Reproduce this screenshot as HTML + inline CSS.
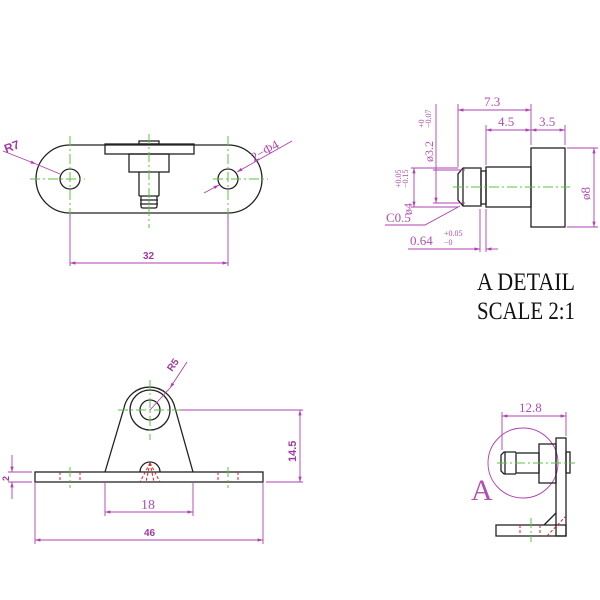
<!DOCTYPE html>
<html><head><style>
html,body{margin:0;padding:0;background:#fff;}
svg{display:block;}
.k{stroke:#222;stroke-width:1.3;fill:none;}
.p{stroke:#b040b0;stroke-width:0.9;fill:none;}
.g{stroke:#5cc040;stroke-width:1;fill:none;stroke-dasharray:10 3 2 3;}
.r{stroke:#e02020;stroke-width:1;fill:none;stroke-dasharray:3 2;}
.t{fill:#a03aa0;font-family:"Liberation Sans",sans-serif;font-weight:bold;}
.s{fill:#b050b0;font-family:"Liberation Serif",serif;}
.b{fill:#111;font-family:"Liberation Serif",serif;}
</style></head><body>
<svg width="600" height="600" viewBox="0 0 600 600" xmlns="http://www.w3.org/2000/svg">
<defs>
<marker id="a" viewBox="0 0 10 10" refX="10" refY="5" markerWidth="8" markerHeight="6" orient="auto-start-reverse"><path d="M0,2 L10,5 L0,8 z" fill="#b040b0"/></marker>
</defs>
<!-- TOP VIEW -->
<path class="k" d="M70,145 L228,145 A34,34 0 0 1 228,213 L70,213 A34,34 0 0 1 70,145 Z"/>
<circle class="k" cx="70" cy="179" r="10"/>
<circle class="k" cx="228" cy="179" r="10"/>
<rect class="k" x="105" y="144" width="89" height="10"/>
<rect class="k" x="139" y="141" width="20" height="3"/>
<rect class="k" x="129" y="154" width="40" height="18"/>
<path class="k" d="M139,172 V196 M159,172 V196 M139,196 H159 M141,196 V206 Q141,208 143,208 H155 Q157,208 157,206 V196 M140,200 H158 M140,204 H158"/>
<line class="g" x1="149" y1="134" x2="149" y2="228"/>
<line class="g" x1="70" y1="136" x2="70" y2="222"/>
<line class="g" x1="228" y1="136" x2="228" y2="222"/>
<line class="g" x1="30" y1="179" x2="85" y2="179"/>
<line class="g" x1="213" y1="179" x2="268" y2="179"/>
<line class="p" x1="70" y1="214" x2="70" y2="266"/>
<line class="p" x1="228" y1="214" x2="228" y2="266"/>
<line class="p" x1="70" y1="263" x2="228" y2="263" marker-start="url(#a)" marker-end="url(#a)"/>
<text class="t" x="143" y="259" font-size="10">32</text>
<line class="p" x1="3" y1="151" x2="36" y2="164" marker-end="url(#a)"/>
<line class="p" x1="36" y1="164" x2="60" y2="174"/>
<text class="t" x="6" y="153" font-size="12" transform="rotate(-20 6 153)">R7</text>
<line class="p" x1="292" y1="141" x2="237" y2="172" marker-end="url(#a)"/>
<line class="p" x1="204" y1="193" x2="219" y2="185" marker-end="url(#a)"/>
<text class="s" x="254" y="162" font-size="13" transform="rotate(-30 254 162)">2−Φ4</text>
<!-- DETAIL -->
<rect class="k" x="531" y="148" width="34" height="79"/>
<rect class="k" x="486" y="167" width="45" height="40"/>
<rect class="k" x="481" y="171" width="5" height="33"/>
<path class="k" d="M481,168 H463 L458,174 V200 L463,206 H481 Z M463,168 V206"/>
<line class="g" x1="453" y1="187" x2="570" y2="187"/>
<line class="p" x1="458" y1="104" x2="458" y2="167"/>
<line class="p" x1="531" y1="104" x2="531" y2="145"/>
<line class="p" x1="486" y1="125" x2="486" y2="165"/>
<line class="p" x1="565" y1="125" x2="565" y2="145"/>
<line class="p" x1="458" y1="110" x2="531" y2="110" marker-start="url(#a)" marker-end="url(#a)"/>
<line class="p" x1="486" y1="130" x2="531" y2="130" marker-start="url(#a)" marker-end="url(#a)"/>
<line class="p" x1="531" y1="130" x2="565" y2="130" marker-start="url(#a)" marker-end="url(#a)"/>
<text class="s" x="484" y="106" font-size="13">7.3</text>
<text class="s" x="498" y="126" font-size="13">4.5</text>
<text class="s" x="539" y="126" font-size="13">3.5</text>
<line class="p" x1="567" y1="148" x2="598" y2="148"/>
<line class="p" x1="567" y1="227" x2="598" y2="227"/>
<line class="p" x1="594" y1="148" x2="594" y2="227" marker-start="url(#a)" marker-end="url(#a)"/>
<text class="s" x="590" y="200" font-size="13" transform="rotate(-90 590 200)">ø8</text>
<line class="p" x1="433" y1="170" x2="465" y2="170"/>
<line class="p" x1="433" y1="203" x2="465" y2="203"/>
<line class="p" x1="436" y1="104" x2="436" y2="203" marker-end="url(#a)"/>
<text class="s" x="433" y="162" font-size="12" transform="rotate(-90 433 162)">ø3.2</text>
<text class="s" x="424" y="128" font-size="8" transform="rotate(-90 424 128)">+0</text>
<text class="s" x="431" y="128" font-size="8" transform="rotate(-90 431 128)">−0.07</text>
<line class="p" x1="411" y1="168" x2="458" y2="168"/>
<line class="p" x1="411" y1="207" x2="458" y2="207"/>
<line class="p" x1="414" y1="168" x2="414" y2="207" marker-start="url(#a)" marker-end="url(#a)"/>
<text class="s" x="412" y="215" font-size="12" transform="rotate(-90 412 215)">ø4</text>
<text class="s" x="401" y="188" font-size="8" transform="rotate(-90 401 188)">+0.05</text>
<text class="s" x="408" y="188" font-size="8" transform="rotate(-90 408 188)">−0.15</text>
<path class="p" d="M385,225 H425 L460,206"/>
<text class="s" x="386" y="222" font-size="13">C0.5</text>
<line class="p" x1="480" y1="209" x2="480" y2="252"/>
<line class="p" x1="486" y1="209" x2="486" y2="252"/>
<line class="p" x1="408" y1="249" x2="480" y2="249" marker-end="url(#a)"/>
<line class="p" x1="486" y1="249" x2="498" y2="249" marker-start="url(#a)"/>
<text class="s" x="410" y="245" font-size="13">0.64</text>
<text class="s" x="444" y="236" font-size="8">+0.05</text>
<text class="s" x="444" y="245" font-size="8">−0</text>
<text class="b" x="477" y="290" font-size="25" textLength="98" lengthAdjust="spacingAndGlyphs">A DETAIL</text>
<text class="b" x="477" y="319" font-size="25" textLength="98" lengthAdjust="spacingAndGlyphs">SCALE 2:1</text>
<!-- FRONT VIEW -->
<rect class="k" x="35" y="472" width="228" height="10"/>
<path class="k" d="M105,472 L124,408 A26,26 0 0 1 175,408 L193,472"/>
<circle class="k" cx="150" cy="410" r="20"/>
<circle class="k" cx="150" cy="410" r="10"/>
<path class="k" d="M140,472 A10,10 0 0 1 160,472"/>
<path class="r" d="M150,463 L140,482 M150,463 L146,482 M150,463 L154,482 M150,463 L160,482"/>
<line class="g" x1="118" y1="410" x2="180" y2="410" stroke-dasharray="6 3"/>
<line class="g" x1="150" y1="380" x2="150" y2="440" stroke-dasharray="6 3"/>
<line class="g" x1="70" y1="467" x2="70" y2="488" stroke-dasharray="none"/>
<line class="g" x1="228" y1="467" x2="228" y2="488" stroke-dasharray="none"/>
<line class="r" x1="60" y1="472" x2="60" y2="482"/><line class="r" x1="80" y1="472" x2="80" y2="482"/>
<line class="r" x1="218" y1="472" x2="218" y2="482"/><line class="r" x1="238" y1="472" x2="238" y2="482"/>
<line class="p" x1="187" y1="362" x2="170" y2="388" marker-end="url(#a)"/>
<line class="p" x1="170" y1="388" x2="150" y2="410"/>
<text class="t" x="172" y="372" font-size="10" transform="rotate(-55 172 372)">R5</text>
<line class="p" x1="180" y1="410" x2="303" y2="410"/>
<line class="p" x1="266" y1="482" x2="303" y2="482"/>
<line class="p" x1="300" y1="410" x2="300" y2="482" marker-start="url(#a)" marker-end="url(#a)"/>
<text class="t" x="296" y="462" font-size="11" transform="rotate(-90 296 462)">14.5</text>
<line class="p" x1="8" y1="472" x2="32" y2="472"/>
<line class="p" x1="8" y1="482" x2="32" y2="482"/>
<line class="p" x1="12" y1="455" x2="12" y2="472" marker-end="url(#a)"/>
<line class="p" x1="12" y1="499" x2="12" y2="482" marker-end="url(#a)"/>
<text class="t" x="9" y="481" font-size="9" transform="rotate(-90 9 481)">2</text>
<line class="p" x1="105" y1="483" x2="105" y2="516"/>
<line class="p" x1="193" y1="483" x2="193" y2="516"/>
<line class="p" x1="105" y1="512" x2="193" y2="512" marker-start="url(#a)" marker-end="url(#a)"/>
<text class="s" x="141" y="509" font-size="14">18</text>
<line class="p" x1="35" y1="483" x2="35" y2="544"/>
<line class="p" x1="263" y1="483" x2="263" y2="544"/>
<line class="p" x1="35" y1="540" x2="263" y2="540" marker-start="url(#a)" marker-end="url(#a)"/>
<text class="t" x="144" y="536" font-size="10">46</text>
<!-- SIDE VIEW -->
<circle class="p" cx="523" cy="463" r="35"/>
<rect class="k" x="556" y="438" width="10" height="98"/>
<rect class="k" x="496" y="525" width="70" height="11"/>
<rect class="k" x="539" y="444" width="17" height="39"/>
<rect class="k" x="566" y="452" width="4" height="21"/>
<rect class="k" x="516" y="453" width="23" height="20"/>
<path class="k" d="M516,452 H504 L501,455 V471 L504,474 H516 M505,452 V474"/>
<line class="k" x1="544" y1="525" x2="556" y2="513" stroke-width="1"/>
<line class="r" x1="547" y1="536" x2="566" y2="516"/>
<line class="r" x1="520" y1="525" x2="520" y2="536"/><line class="r" x1="540" y1="525" x2="540" y2="536"/>
<line class="g" x1="531" y1="518" x2="531" y2="542" stroke-dasharray="none"/>
<line class="g" x1="497" y1="463" x2="575" y2="463"/>
<line class="p" x1="502" y1="412" x2="502" y2="450"/>
<line class="p" x1="566" y1="412" x2="566" y2="436"/>
<line class="p" x1="502" y1="416" x2="566" y2="416" marker-start="url(#a)" marker-end="url(#a)"/>
<text class="s" x="519" y="412" font-size="13">12.8</text>
<text class="s" x="471" y="500" font-size="30">A</text>
</svg>
</body></html>
